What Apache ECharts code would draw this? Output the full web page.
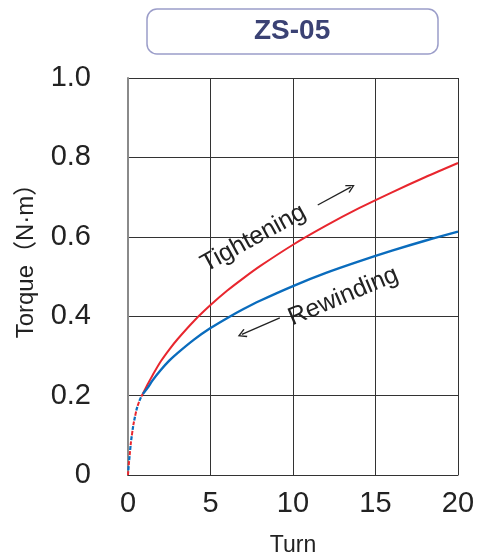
<!DOCTYPE html>
<html>
<head>
<meta charset="utf-8">
<script src="https://cdn.jsdelivr.net/npm/echarts@6/dist/echarts.min.js"></script>
<style>
  html, body { margin: 0; padding: 0; background: #ffffff; }
  #chart { width: 481px; height: 552px; }
</style>
</head>
<body>
<div id="chart"></div>
<script>
// start of both curves (drawn dashed)
const startTurns = [0, 0.1, 0.25, 0.45, 0.65, 0.9]
const startTorque = [0, 0.05, 0.105, 0.152, 0.182, 0.205]

// solid part
const turns = [0.9, 1.2, 1.5, 2, 2.5, 3, 4, 5, 6, 7, 8, 10, 12, 14, 16, 18, 20]
const tightening = [0.205, 0.229, 0.252, 0.287, 0.316, 0.342, 0.388, 0.428, 0.464, 0.496, 0.526, 0.58, 0.628, 0.672, 0.712, 0.75, 0.786]
const rewinding = [0.204, 0.22, 0.239, 0.265, 0.288, 0.307, 0.341, 0.37, 0.395, 0.418, 0.439, 0.476, 0.509, 0.538, 0.565, 0.59, 0.613]

const yTicks = ['0', '0.2', '0.4', '0.6', '0.8', '1.0']
const xTicks = ['0', '5', '10', '15', '20']

const font = "'Liberation Sans', Arial, 'Noto Sans CJK JP', sans-serif"
const red = '#e8262e'
const blue = '#0a6cbd'
const openArrow = 'path://M5,0 L10,9 L8.8,10 L5,3 L1.2,10 L0,9 Z'

const pairs = (xs, ys) => xs.map((x, i) => [x, ys[i]])

const chart = echarts.init(document.getElementById('chart'))

const options = {
  backgroundColor: '#ffffff',
  animation: false,
  title: {
    text: 'ZS-05',
    left: 147,
    top: 9,
    padding: [8, 108, 9, 107],
    borderColor: '#9b9dc9',
    borderWidth: 1.5,
    borderRadius: 10,
    textStyle: { color: '#3b4274', fontSize: 28, fontWeight: 'bold', fontFamily: font }
  },
  grid: { left: 128, right: 23, top: 78, bottom: 77, outerBoundsMode: 'none', containLabel: false },
  xAxis: {
    type: 'value',
    min: 0,
    max: 20,
    interval: 5,
    name: 'Turn',
    nameLocation: 'middle',
    nameGap: 59,
    nameTextStyle: { color: '#222', fontSize: 23, fontFamily: font },
    axisLine: { show: true, lineStyle: { color: '#333', width: 1.2 } },
    axisTick: { show: false },
    axisLabel: {
      margin: 14,
      color: '#222',
      fontSize: 29,
      fontFamily: font,
      formatter: (v) => xTicks[Math.round(v / 5)]
    },
    splitLine: { show: true, lineStyle: { color: '#333', width: 1 } }
  },
  yAxis: {
    type: 'value',
    min: 0,
    max: 1,
    interval: 0.2,
    name: 'Torque（N·m）',
    nameLocation: 'middle',
    nameGap: 90,
    nameTextStyle: { color: '#222', fontSize: 24, fontFamily: font, padding: [0, 0, 0, 43] },
    axisLine: { show: true, lineStyle: { color: '#8a8a8a', width: 2 } },
    axisTick: { show: false },
    axisLabel: {
      margin: 37,
      color: '#222',
      fontSize: 29,
      fontFamily: font,
      formatter: (v) => yTicks[Math.round(v / 0.2)]
    },
    splitLine: { show: true, lineStyle: { color: '#333', width: 1 } }
  },
  series: [
    {
      name: 'Tightening start',
      type: 'line',
      data: pairs(startTurns, startTorque),
      smooth: true,
      symbol: 'none',
      lineStyle: { color: red, width: 2, type: [4, 6] }
    },
    {
      name: 'Rewinding start',
      type: 'line',
      data: pairs(startTurns, startTorque),
      smooth: true,
      symbol: 'none',
      lineStyle: { color: blue, width: 2.2, type: [4, 6], dashOffset: 5 }
    },
    {
      name: 'Tightening',
      type: 'line',
      data: pairs(turns, tightening),
      smooth: 0.3,
      symbol: 'none',
      lineStyle: { color: red, width: 2 },
      // arrow next to the label
      markLine: {
        silent: true,
        symbol: ['none', openArrow],
        symbolSize: [9, 9],
        label: { show: false },
        lineStyle: { color: '#222', width: 1.3, type: 'solid' },
        data: [[{ coord: [11.5, 0.68] }, { coord: [13.5, 0.725] }]]
      }
    },
    {
      name: 'Rewinding',
      type: 'line',
      data: pairs(turns, rewinding),
      smooth: 0.3,
      symbol: 'none',
      lineStyle: { color: blue, width: 2.4 },
      markLine: {
        silent: true,
        symbol: ['none', openArrow],
        symbolSize: [9, 9],
        label: { show: false },
        lineStyle: { color: '#222', width: 1.3, type: 'solid' },
        data: [[{ coord: [9.2, 0.396] }, { coord: [6.9, 0.354] }]]
      }
    }
  ]
}
chart.setOption(options)

// labels on the curves, placed by data coordinates
const p1 = chart.convertToPixel({ gridIndex: 0 }, [7.6, 0.596])
const p2 = chart.convertToPixel({ gridIndex: 0 }, [13.05, 0.45])
chart.setOption({
  graphic: [
    {
      type: 'text',
      x: p1[0],
      y: p1[1],
      rotation: 0.5,
      style: { text: 'Tightening', fill: '#222', font: '25px ' + font, textAlign: 'center', textVerticalAlign: 'middle' }
    },
    {
      type: 'text',
      x: p2[0],
      y: p2[1],
      rotation: 0.4,
      style: { text: 'Rewinding', fill: '#222', font: '25px ' + font, textAlign: 'center', textVerticalAlign: 'middle' }
    }
  ]
})
</script>
</body>
</html>
